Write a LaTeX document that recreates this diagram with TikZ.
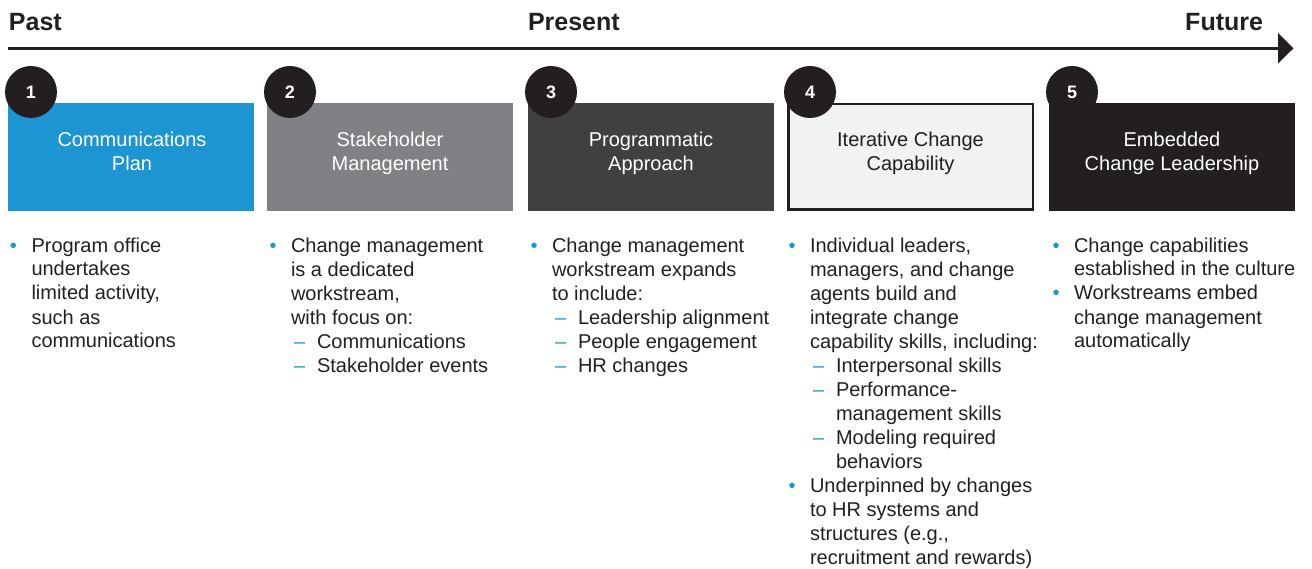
\documentclass[tikz,border=0pt]{standalone}
\usepackage{fontspec}
\setmainfont{Liberation Sans}
\definecolor{bblue}{RGB}{30,149,211}
\definecolor{bgray}{RGB}{128,129,132}
\definecolor{bdark}{RGB}{64,64,64}
\definecolor{blk}{RGB}{35,31,32}
\definecolor{blight}{RGB}{241,242,243}
\newcommand\bul{\makebox[0pt][r]{\makebox[0pt][c]{\textcolor{bblue}{•}}\hspace{18pt}}}
\newcommand\subi{\hspace*{3pt}\makebox[23pt][l]{\textcolor{bblue}{–}}}
\newcommand\subc{\hspace*{26pt}}
\begin{document}
\begin{tikzpicture}[x=1pt,y=-1pt,
  every node/.style={inner sep=0pt, outer sep=0pt, text=blk},
  hdr/.style={font=\fontsize{25}{30}\selectfont\bfseries},
  box/.style={rectangle, minimum width=246pt, minimum height=108pt},
  num/.style={circle, fill=blk, minimum size=52pt, text=white, font=\fontsize{18}{18}\selectfont\bfseries},
  ttl/.style={align=center, anchor=base, font=\fontsize{20}{24}\selectfont},
  col/.style={align=left, anchor=base west, font=\fontsize{20}{24}\selectfont}]
\useasboundingbox (0,0) rectangle (1312,569);
% headers
\node[hdr, anchor=base west] (past) at (9,31) {Past};
\node[hdr, anchor=base west] (present) at (528,31) {Present};
\node[hdr, anchor=base east] (future) at (1263,31) {Future};
% timeline
\coordinate (tl0) at (8,48.3);
\coordinate (tl1) at (1280,48.3);
\coordinate (tipa) at (1278,33);
\coordinate (tipb) at (1293.5,48.3);
\coordinate (tipc) at (1278,63.5);
\draw[line width=3pt, blk] (tl0) -- (tl1);
\fill[blk] (tipa) -- (tipb) -- (tipc) -- cycle;
% boxes
\node[box, fill=bblue] (b1) at (131,157) {};
\node[box, fill=bgray] (b2) at (390,157) {};
\node[box, fill=bdark] (b3) at (651,157) {};
\node[box, fill=blight, draw=blk, line width=2.5pt, minimum width=244.5pt, minimum height=105.5pt] (b4) at (910.5,157) {};
\node[box, fill=blk] (b5) at (1172,157) {};
% titles (base anchor = baseline of last line)
\node[ttl, text=white] (t1) at (132,171) {Communications\\Plan};
\node[ttl, text=white] (t2) at (390,171) {Stakeholder\\Management};
\node[ttl, text=white] (t3) at (651,171) {Programmatic\\Approach};
\node[ttl] (t4) at (910.5,171) {Iterative Change\\Capability};
\node[ttl, text=white] (t5) at (1172,171) {Embedded\\Change Leadership};
% numbers
\node[num] (c1) at (31,92) {1};
\node[num] (c2) at (290,92) {2};
\node[num] (c3) at (551,92) {3};
\node[num] (c4) at (810,92) {4};
\node[num] (c5) at (1072,92) {5};
% columns (base anchor = baseline of last line; first baseline at 252)
\node[col] (d1) at (31.5,348) {\bul Program office\\undertakes\\limited activity,\\such as\\communications};
\node[col] (d2) at (291,372) {\bul Change management\\is a dedicated\\workstream,\\with focus on:\\\subi Communications\\\subi Stakeholder events};
\node[col] (d3) at (552,372) {\bul Change management\\workstream expands\\to include:\\\subi Leadership alignment\\\subi People engagement\\\subi HR changes};
\node[col] (d4) at (810,564) {\bul Individual leaders,\\managers, and change\\agents build and\\integrate change\\capability skills, including:\\\subi Interpersonal skills\\\subi Performance-\\\subc management skills\\\subi Modeling required\\\subc behaviors\\\bul Underpinned by changes\\to HR systems and\\structures (e.g.,\\recruitment and rewards)};
\node[col] (d5) at (1074,348) {\bul Change capabilities\\established in the culture\\\bul Workstreams embed\\change management\\automatically};
\end{tikzpicture}
\end{document}
